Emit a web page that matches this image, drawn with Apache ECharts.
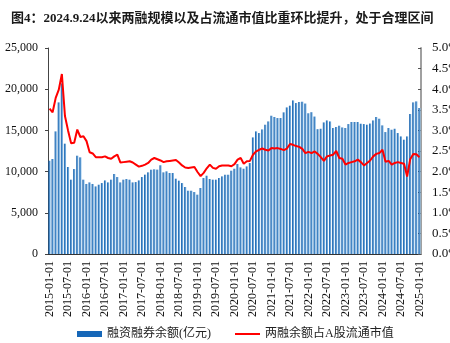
<!DOCTYPE html>
<html>
<head>
<meta charset="utf-8">
<script src="https://cdn.jsdelivr.net/npm/echarts@6/dist/echarts.min.js"></script>
<style>
  html, body { margin: 0; padding: 0; background: #fff; }
  #chart { width: 450px; height: 343px; }
</style>
</head>
<body>
<div id="chart"></div>
<script>
// Monthly categories, 2015-01 through 2025-01
const startYear = 2015;
const monthCount = 121;
const categories = [];
for (let i = 0; i < monthCount; i++) {
  const y = startYear + Math.floor(i / 12);
  const m = (i % 12) + 1;
  categories.push(y + '-' + (m < 10 ? '0' + m : m) + '-01');
}

// 融资融券余额 (亿元)
const marginBalance = [
  11320, 11530, 14880, 18400, 20700, 13390, 10560, 9020, 10310, 11930, 11730, 9020,
  8500, 8690, 8500, 8200, 8410, 8610, 8930, 8690, 9020, 9710, 9340, 8690,
  9020, 9100, 9020, 8690, 8730, 8930, 9340, 9630, 9910, 10230, 10280, 10240,
  10770, 9910, 10030, 9830, 9830, 9140, 8900, 8610, 8130, 7680, 7680, 7520,
  7200, 8010, 9220, 9500, 9100, 9020, 9020, 9220, 9420, 9620, 9620, 10110,
  10350, 10920, 10510, 10350, 10630, 11040, 14150, 14880, 14680, 15120, 15690, 16090,
  16780, 16630, 16500, 16500, 17190, 17790, 18000, 18640, 18320, 18450, 18480, 18260,
  17080, 17210, 16680, 15150, 15200, 15970, 16210, 16090, 15290, 15410, 15570, 15360,
  15290, 15770, 16020, 16020, 16020, 15810, 15770, 15690, 15830, 16210, 16630, 16420,
  15610, 14800, 15290, 15080, 15200, 14680, 14270, 13870, 14270, 16990, 18400, 18520,
  17720
];

// 两融余额占A股流通市值 (%)
const marginShare = [
  3.53, 3.44, 3.79, 3.99, 4.37, 3.35, 3.00, 2.69, 2.70, 3.02, 2.84, 2.86,
  2.74, 2.47, 2.44, 2.35, 2.35, 2.35, 2.37, 2.33, 2.31, 2.37, 2.41, 2.22,
  2.23, 2.24, 2.25, 2.22, 2.17, 2.12, 2.14, 2.17, 2.21, 2.29, 2.33, 2.30,
  2.27, 2.23, 2.25, 2.26, 2.27, 2.28, 2.22, 2.15, 2.10, 2.09, 2.10, 2.11,
  1.99, 1.89, 1.97, 2.08, 2.17, 2.09, 2.07, 2.13, 2.15, 2.15, 2.15, 2.13,
  2.18, 2.29, 2.33, 2.19, 2.25, 2.26, 2.41, 2.49, 2.53, 2.56, 2.53, 2.51,
  2.57, 2.56, 2.57, 2.55, 2.52, 2.56, 2.67, 2.65, 2.62, 2.60, 2.55, 2.45,
  2.48, 2.45, 2.49, 2.43, 2.35, 2.26, 2.37, 2.39, 2.41, 2.50, 2.33, 2.31,
  2.17, 2.21, 2.23, 2.25, 2.29, 2.23, 2.15, 2.21, 2.27, 2.37, 2.43, 2.45,
  2.53, 2.24, 2.26, 2.17, 2.21, 2.23, 2.21, 2.19, 1.88, 2.30, 2.43, 2.42,
  2.35
];

const seriesNames = ['融资融券余额(亿元)', '两融余额占A股流通市值'];
const titleText = '图4：2024.9.24以来两融规模以及占流通市值比重环比提升，处于合理区间';

const serifFont = '"Liberation Serif", "Noto Sans CJK SC", serif';

const chart = echarts.init(document.getElementById('chart'));
chart.setOption({
  animation: false,
  backgroundColor: '#fff',
  title: {
    text: titleText,
    left: 6,
    top: 7,
    textStyle: { fontFamily: serifFont, fontSize: 13, fontWeight: 'bold', color: '#1a1a1a' }
  },
  grid: { left: 48, right: 29, top: 48, bottom: 89, containLabel: false, outerBoundsMode: 'none' },
  legend: {
    top: 323,
    left: 72,
    itemGap: 24,
    itemWidth: 25,
    itemHeight: 6,
    textStyle: { fontFamily: serifFont, fontSize: 12, color: '#222' },
    data: [
      { name: seriesNames[0], icon: 'rect', itemStyle: { color: '#1667b8' } },
      { name: seriesNames[1], icon: 'path://M0,0H25V2H0Z', itemStyle: { color: '#ff0000' } }
    ]
  },
  xAxis: {
    type: 'category',
    data: categories,
    boundaryGap: true,
    axisLine: { lineStyle: { color: '#333', width: 1 } },
    axisTick: { inside: true, length: 3, interval: 5, alignWithLabel: true, lineStyle: { color: '#333' } },
    axisLabel: {
      interval: 5,
      rotate: 90,
      margin: 7,
      fontFamily: serifFont,
      fontSize: 12,
      color: '#111'
    },
    splitLine: { show: false }
  },
  yAxis: [
    {
      type: 'value',
      min: 0,
      max: 25000,
      interval: 5000,
      axisLine: { show: true, lineStyle: { color: '#444', width: 1 } },
      axisTick: { show: true, length: 3, lineStyle: { color: '#444' } },
      axisLabel: {
        margin: 10,
        fontFamily: serifFont,
        fontSize: 12,
        color: '#111',
        formatter: v => v.toLocaleString('en-US')
      },
      splitLine: { show: false }
    },
    {
      type: 'value',
      min: 0,
      max: 5,
      interval: 0.5,
      position: 'right',
      axisLine: { show: true, lineStyle: { color: '#a0a0a0', width: 2 } },
      axisTick: { show: true, inside: true, length: 3, lineStyle: { color: '#555' } },
      axisLabel: {
        margin: 11,
        fontFamily: serifFont,
        fontSize: 13,
        color: '#111',
        formatter: v => v.toFixed(1) + '%'
      },
      splitLine: { show: false }
    }
  ],
  series: [
    {
      name: seriesNames[0],
      type: 'bar',
      yAxisIndex: 0,
      data: marginBalance,
      barCategoryGap: '30%',
      itemStyle: {
        color: new echarts.graphic.LinearGradient(0, 0, 1, 0, [
          { offset: 0, color: '#0a58a8' },
          { offset: 1, color: '#8ec1ea' }
        ])
      }
    },
    {
      name: seriesNames[1],
      type: 'line',
      yAxisIndex: 1,
      data: marginShare,
      symbol: 'none',
      lineStyle: { color: '#ff0000', width: 2 },
      itemStyle: { color: '#ff0000' },
      z: 3
    }
  ]
});
</script>
</body>
</html>
